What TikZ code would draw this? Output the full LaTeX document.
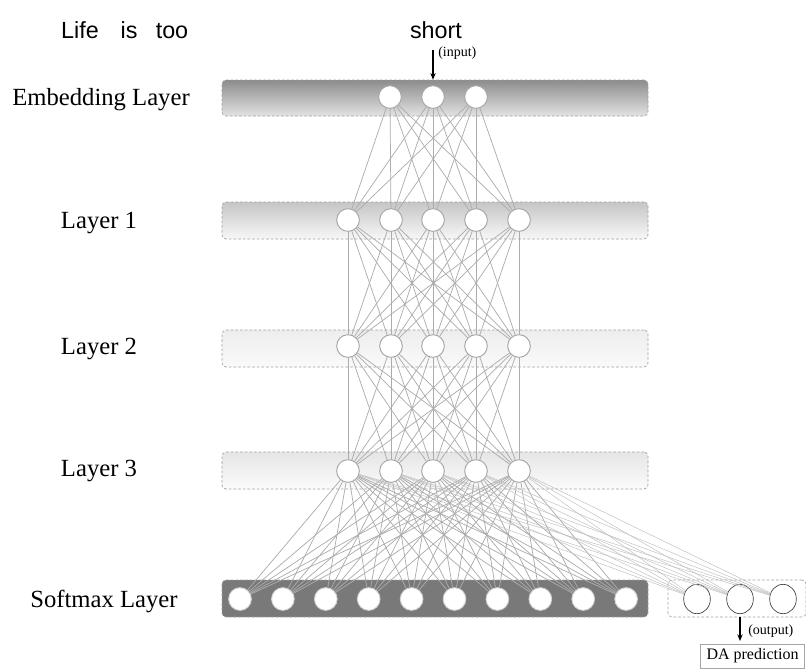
\documentclass[tikz,border=0pt]{standalone}
\usepackage{fontspec}
\setmainfont{Liberation Serif}
\newfontfamily\wordfont{Liberation Sans}
\usetikzlibrary{fit,shapes.geometric,arrows.meta}
\begin{document}
\begin{tikzpicture}[x=0.75pt,y=-0.75pt,
 bar/.style={draw=gray!75, dash pattern=on 2pt off 1.5pt, line width=0.5pt, rounded corners=3pt, inner sep=0pt},
 neuron/.style={circle, draw=gray!70, fill=white, line width=0.7pt, minimum size=17pt, inner sep=0pt},
 softneuron/.style={circle, draw=gray!35, fill=white, line width=0.7pt, minimum size=17pt, inner sep=0pt},
 outneuron/.style={ellipse, draw=gray!50!black, line width=0.5pt, minimum width=20pt, minimum height=22pt, inner sep=0pt},
 edge/.style={gray!65, line width=0.55pt},
 thinedge/.style={gray!50, line width=0.35pt},
 lbl/.style={font=\fontsize{18.5}{20}\selectfont},
 word/.style={font=\wordfont\fontsize{17.5}{20}\selectfont, inner sep=0pt, anchor=base},
 small/.style={font=\fontsize{10.5}{12}\selectfont, inner sep=0pt, anchor=west},
 arr/.style={-{Stealth[length=5pt,width=4pt]}, line width=0.8pt}
]
\useasboundingbox (0,0) rectangle (806,668);

% words
\node[word] (w1) at (80,38) {Life};
\node[word] (w2) at (129,38) {is};
\node[word] (w3) at (172,38) {too};
\node[word] (short) at (436,38) {short};

% bars
\node[bar, fit={(222,80) (648,116)}, top color=gray!90, bottom color=gray!22] (emb) {};
\node[bar, fit={(222,202) (648,239)}, top color=gray!45, bottom color=gray!6] (l1) {};
\node[bar, fit={(222,330) (648,367)}, top color=gray!14, bottom color=gray!4] (l2) {};
\node[bar, fit={(222,452) (648,489)}, top color=gray!20, bottom color=gray!3] (l3) {};
\node[bar, fit={(222,580) (648,617)}, fill=gray!95!black] (sm) {};
\node[bar, fit={(668,580) (806,617)}] (outbox) {};

% labels
\node[lbl] (t0) at (101,100) {Embedding Layer};
\node[lbl] (t1) at (99,223) {Layer 1};
\node[lbl] (t2) at (99,349) {Layer 2};
\node[lbl] (t3) at (99,471) {Layer 3};
\node[lbl] (t4) at (104,601) {Softmax Layer};

% neurons
\foreach \x [count=\i] in {390,433,476} \node[neuron] (e\i) at (\x,97) {};
\foreach \x [count=\i] in {348,391,433,476,519} {
  \node[neuron] (a\i) at (\x,220) {};
  \node[neuron] (b\i) at (\x,346) {};
  \node[neuron] (c\i) at (\x,471) {};
}
\foreach \i in {0,...,9} \node[softneuron] (s\i) at ({240+42.9*\i},599) {};
\foreach \x [count=\i] in {697,740,783} \node[outneuron] (o\i) at (\x,599) {};

% edges
\foreach \i in {1,2,3} \foreach \j in {1,...,5} \draw[edge] (e\i) -- (a\j);
\foreach \i in {1,...,5} \foreach \j in {1,...,5} {
  \draw[edge] (a\i) -- (b\j);
  \draw[edge] (b\i) -- (c\j);
}
\foreach \i in {1,...,5} \foreach \j in {0,...,9} \draw[edge] (c\i) -- (s\j);
\foreach \i in {1,...,5} \foreach \j in {1,2,3} \draw[thinedge] (c\i) -- (o\j);

% input arrow
\coordinate (inp) at (433,50);
\draw[arr] (inp) -- (inp |- emb.north);
\node[small] (inlbl) at (438,53) {(input)};

% output arrow
\node[draw=gray!70, line width=0.5pt, minimum width=78pt, minimum height=18pt, inner sep=0pt, font=\fontsize{12}{14}\selectfont] (da) at (752.5,656) {DA prediction};
\draw[arr] (o2 |- outbox.south) -- ([yshift=2pt]o2 |- da.north);
\node[small] (outlbl) at (748,631) {(output)};
\end{tikzpicture}
\end{document}
